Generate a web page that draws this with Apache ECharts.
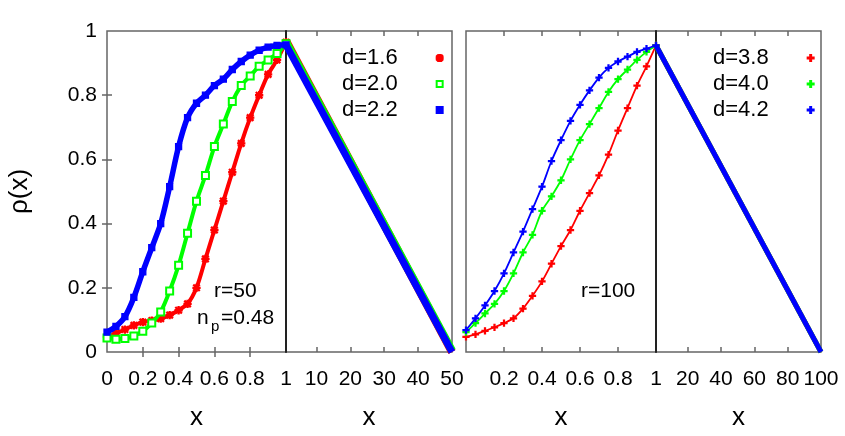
<!DOCTYPE html>
<html>
<head>
<meta charset="utf-8">
<script src="https://cdn.jsdelivr.net/npm/echarts@6/dist/echarts.min.js"></script>
<style>
html, body { margin: 0; padding: 0; background: #fff; }
#chart { width: 845px; height: 436px; }
</style>
</head>
<body>
<div id="chart"></div>
<script>
// sample positions (left half of each panel, x in 0..1)
var xs = [0, 0.05, 0.1, 0.15, 0.2, 0.25, 0.3, 0.35, 0.4, 0.45, 0.5, 0.55, 0.6, 0.65, 0.7, 0.75, 0.8, 0.85, 0.9, 0.95, 1];

// r=50 panel
var r50_d16 = [0.047, 0.058, 0.070, 0.083, 0.093, 0.098, 0.104, 0.115, 0.130, 0.150, 0.200, 0.290, 0.380, 0.470, 0.560, 0.650, 0.730, 0.800, 0.865, 0.910, 0.965];
var r50_d20 = [0.044, 0.040, 0.042, 0.050, 0.065, 0.090, 0.125, 0.190, 0.270, 0.370, 0.470, 0.550, 0.640, 0.710, 0.780, 0.830, 0.860, 0.890, 0.910, 0.930, 0.960];
var r50_d22 = [0.062, 0.080, 0.110, 0.170, 0.250, 0.325, 0.400, 0.515, 0.640, 0.730, 0.775, 0.800, 0.830, 0.850, 0.880, 0.905, 0.925, 0.940, 0.950, 0.955, 0.957];
var tailX50 = [1, 50];
var tail50_d16 = [0.970, 0];
var tail50_d20 = [0.965, 0.004];
var tail50_d22 = [0.957, 0];

// r=100 panel
var r100_d38 = [0.047, 0.055, 0.066, 0.077, 0.090, 0.105, 0.135, 0.175, 0.220, 0.275, 0.330, 0.380, 0.440, 0.495, 0.550, 0.615, 0.690, 0.760, 0.830, 0.890, 0.955];
var r100_d40 = [0.062, 0.090, 0.120, 0.150, 0.190, 0.245, 0.310, 0.365, 0.440, 0.485, 0.535, 0.600, 0.660, 0.710, 0.760, 0.810, 0.850, 0.880, 0.910, 0.935, 0.955];
var r100_d42 = [0.068, 0.105, 0.145, 0.190, 0.245, 0.310, 0.375, 0.445, 0.515, 0.595, 0.660, 0.720, 0.770, 0.815, 0.855, 0.885, 0.905, 0.920, 0.935, 0.945, 0.955];
var tailX100 = [1, 100];
var tail100_d38 = [0.955, 0];
var tail100_d40 = [0.955, 0];
var tail100_d42 = [0.955, 0];

// tick labels
var yTicks = [0, 0.2, 0.4, 0.6, 0.8, 1];
var xTicksA = [0, 0.2, 0.4, 0.6, 0.8];
var xTicksB = [1, 10, 20, 30, 40, 50];
var xTicksC = [0.2, 0.4, 0.6, 0.8];
var xTicksD = [1, 20, 40, 60, 80, 100];

var FONT = '"Liberation Sans", Arial, sans-serif';
var RED = '#ff0000', GREEN = '#00ff00', BLUE = '#0000ff';
var STAR = 'path://M4.25,0H5.75V4.25H10V5.75H5.75V10H4.25V5.75H0V4.25H4.25Z M0.5,1.5L1.5,0.5L9.5,8.5L8.5,9.5Z M8.5,0.5L9.5,1.5L1.5,9.5L0.5,8.5Z';
var PLUS = 'path://M4.2,0H5.8V4.2H10V5.8H5.8V10H4.2V5.8H0V4.2H4.2Z';

function pts(xArr, yArr) {
    return xArr.map(function (x, i) { return [x, yArr[i]]; });
}
function fmt(v) {
    return String(Math.round(v * 10) / 10);
}

var grids = [
    {left: 107, top: 31, width: 179, height: 321},
    {left: 286, top: 31, width: 166, height: 321},
    {left: 466, top: 31, width: 190, height: 321},
    {left: 656, top: 31, width: 165, height: 321}
];
grids.forEach(function (g) {
    g.show = true;
    g.borderColor = '#666';
    g.borderWidth = 1.5;
    g.containLabel = false;
    g.outerBoundsMode = 'none';
});

var ranges = [[0, 1], [1, 50], [0, 1], [1, 100]];
var labelVals = [xTicksA, xTicksB, xTicksC, xTicksD];
var tickVals = [[0.2, 0.4, 0.6, 0.8], [10, 20, 30, 40], [0.2, 0.4, 0.6, 0.8], [20, 40, 60, 80]];

var xAxes = [];
ranges.forEach(function (r, i) {
    xAxes.push({
        type: 'value', gridIndex: i, min: r[0], max: r[1], position: 'bottom',
        name: 'x', nameLocation: 'middle', nameGap: 53,
        nameTextStyle: {fontSize: 26, color: '#000', fontFamily: FONT},
        axisLine: {show: false},
        axisTick: {show: true, inside: true, length: 5, customValues: tickVals[i], lineStyle: {color: '#666', width: 1.5}},
        axisLabel: {show: true, margin: 17, customValues: labelVals[i], formatter: fmt, fontSize: 21, color: '#000', fontFamily: FONT},
        splitLine: {show: false}
    });
});
ranges.forEach(function (r, i) {
    xAxes.push({
        type: 'value', gridIndex: i, min: r[0], max: r[1], position: 'top',
        axisLine: {show: false},
        axisTick: {show: true, inside: true, length: 5, customValues: tickVals[i], lineStyle: {color: '#666', width: 1.5}},
        axisLabel: {show: false},
        splitLine: {show: false}
    });
});

var yBase = {type: 'value', min: 0, max: 1, splitLine: {show: false}};
var yAxes = [
    echarts.util.merge({
        gridIndex: 0, position: 'left',
        name: 'ρ(x)', nameLocation: 'middle', nameRotate: 90, nameGap: 74,
        nameTextStyle: {fontSize: 26, color: '#000', fontFamily: FONT},
        axisLine: {show: false},
        axisTick: {show: true, inside: true, length: 5, customValues: [0.2, 0.4, 0.6, 0.8], lineStyle: {color: '#666', width: 1.5}},
        axisLabel: {show: true, margin: 10, customValues: yTicks, formatter: fmt, fontSize: 21, color: '#000', fontFamily: FONT}
    }, yBase),
    echarts.util.merge({
        gridIndex: 0, position: 'right',
        axisLine: {show: false},
        axisTick: {show: true, inside: true, length: 5, customValues: [0.2, 0.4, 0.6, 0.8], lineStyle: {color: '#666', width: 1.5}},
        axisLabel: {show: false}
    }, yBase),
    echarts.util.merge({
        gridIndex: 1, position: 'left',
        axisLine: {show: true, lineStyle: {color: '#222', width: 2}},
        axisTick: {show: false}, axisLabel: {show: false}
    }, yBase),
    echarts.util.merge({
        gridIndex: 2, position: 'left',
        axisLine: {show: false}, axisTick: {show: false}, axisLabel: {show: false}
    }, yBase),
    echarts.util.merge({
        gridIndex: 3, position: 'left',
        axisLine: {show: true, lineStyle: {color: '#222', width: 2}},
        axisTick: {show: false}, axisLabel: {show: false}
    }, yBase)
];

function curve(name, data, xi, yi, color, symbol, size, width, z) {
    return {
        name: name, type: 'line', xAxisIndex: xi, yAxisIndex: yi,
        data: data, smooth: 0.3, clip: false, z: z,
        symbol: symbol, symbolSize: size, showSymbol: !!symbol,
        itemStyle: {color: color, borderColor: color, borderWidth: 1.3},
        lineStyle: {color: color, width: width},
        emphasis: {disabled: true}, animation: false
    };
}

var series = [
    curve('d=1.6', pts(xs, r50_d16), 0, 0, RED, STAR, 7, 4, 2),
    curve('d=2.0', pts(xs, r50_d20), 0, 0, GREEN, 'emptyRect', 7, 4, 3),
    curve('d=2.2', pts(xs, r50_d22), 0, 0, BLUE, 'rect', 6, 5.5, 4),
    curve('d=1.6', pts(tailX50, tail50_d16), 1, 2, RED, 'none', 0, 8, 2),
    curve('d=2.0', pts(tailX50, tail50_d20), 1, 2, GREEN, 'none', 0, 8, 3),
    curve('d=2.2', pts(tailX50, tail50_d22), 1, 2, BLUE, 'none', 0, 7, 4),
    curve('d=3.8', pts(xs, r100_d38), 2, 3, RED, PLUS, 6, 1.8, 2),
    curve('d=4.0', pts(xs, r100_d40), 2, 3, GREEN, PLUS, 6, 1.8, 3),
    curve('d=4.2', pts(xs, r100_d42), 2, 3, BLUE, PLUS, 6, 1.8, 4),
    curve('d=3.8', pts(tailX100, tail100_d38), 3, 4, RED, 'none', 0, 5, 2),
    curve('d=4.0', pts(tailX100, tail100_d40), 3, 4, GREEN, 'none', 0, 5, 3),
    curve('d=4.2', pts(tailX100, tail100_d42), 3, 4, BLUE, 'none', 0, 5, 4)
];

function legendAt(left, items) {
    return {
        orient: 'vertical', left: left, top: 47, align: 'right', padding: 0,
        itemWidth: 6, itemHeight: 6, itemGap: 4, selectedMode: false,
        data: items,
        formatter: '{a|{name}}',
        textStyle: {
            fontSize: 22, color: '#000', fontFamily: FONT,
            rich: {a: {fontSize: 22, lineHeight: 22, color: '#000', fontFamily: FONT, padding: [0, 34, 0, 0]}}
        }
    };
}

var txt = {fontSize: 21, fill: '#000', fontFamily: FONT, verticalAlign: 'middle', align: 'left'};
function label(x, y, text, size) {
    return {type: 'text', x: x, y: y, silent: true,
        style: echarts.util.extend(echarts.util.extend({}, txt), {text: text, fontSize: size || 21})};
}

var chart = echarts.init(document.getElementById('chart'), null, {renderer: 'canvas'});
chart.setOption({
    backgroundColor: '#fff',
    animation: false,
    grid: grids,
    xAxis: xAxes,
    yAxis: yAxes,
    legend: [
        legendAt(342, [{name: 'd=1.6', icon: STAR}, {name: 'd=2.0', icon: 'emptyRect'}, {name: 'd=2.2', icon: 'rect'}]),
        legendAt(713, [{name: 'd=3.8', icon: PLUS}, {name: 'd=4.0', icon: PLUS}, {name: 'd=4.2', icon: PLUS}])
    ],
    graphic: [
        label(214, 291, 'r=50'),
        label(197, 318, 'n'),
        label(211, 327, 'p', 15),
        label(221, 318, '=0.48'),
        label(581, 291, 'r=100')
    ],
    series: series
});
</script>
</body>
</html>
